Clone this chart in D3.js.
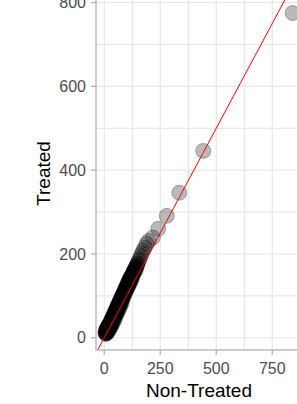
<!DOCTYPE html>
<html lang="en">
<head>
    <meta charset="UTF-8">
    <title>Treated vs Non-Treated</title>
    <script src="https://d3js.org/d3.v7.min.js"></script>
    <style>
        body {
            margin: 0;
            background: #fff;
            font-family: "Liberation Sans", Arial, sans-serif;
        }
        svg {
            display: block;
        }
    </style>
</head>
<body>
    <div id="chart"></div>

    <script>
        // Values (the dense cloud near the origin is estimated)
        const nonTreated = [
            5, 6, 8, 8, 9, 10, 11, 12, 12, 13, 14, 15, 16, 17, 18, 19, 20, 21, 22, 23,
            24, 25, 26, 27, 28, 29, 30, 31, 32, 33, 34, 35, 36, 37, 38, 39, 40,
            41, 42, 43, 44, 45, 46, 47, 48, 49, 50, 51, 52, 53, 54, 55, 56, 57, 58, 59,
            60, 61, 62, 63, 64, 65, 66, 67, 68, 69, 70, 71, 72, 73, 74, 75, 76, 77, 78, 79, 80,
            82, 83, 85, 86, 88, 89, 91, 92, 94, 95, 97, 99, 100, 102, 104, 106, 108, 110,
            112, 114, 116, 118, 120, 122, 125, 127, 130,
            133, 136, 139, 142, 146, 150, 154, 158, 163, 168, 174, 181, 189, 198,
            217, 241, 279, 335, 442, 841,
            7, 9, 11, 13, 15, 17, 19, 21, 23, 25, 27, 29, 31, 33, 35, 37, 39, 41, 43, 45,
            47, 49, 51, 53, 55, 57, 59, 61, 63, 65, 67, 69, 71, 73, 75, 77, 79, 81, 84, 87,
            90, 93, 96, 98, 101, 103, 105, 107, 109, 111, 113, 115, 117, 119, 121, 124, 128, 131,
            135, 138, 141, 144, 148
        ];
        const treated = [
            10, 14, 9, 17, 12, 20, 15, 11, 24, 18, 14, 22, 27, 19, 24, 16, 29, 23, 31, 26,
            20, 33, 28, 36, 30, 25, 38, 34, 41, 37, 31, 44, 40, 47, 43, 36, 50,
            46, 53, 49, 42, 56, 52, 59, 55, 47, 62, 58, 65, 61, 55, 68, 64, 71, 67, 60,
            74, 70, 77, 73, 66, 80, 76, 83, 79, 72, 86, 82, 89, 85, 78, 92, 88, 95, 91, 84, 98,
            94, 101, 104, 97, 108, 103, 112, 106, 115, 110, 119, 114, 123, 118, 127, 122, 131, 126,
            136, 131, 140, 135, 145, 140, 150, 146, 155,
            160, 157, 166, 163, 172, 178, 184, 188, 195, 201, 208, 215, 224, 231,
            239, 260, 291, 346, 446, 775,
            13, 11, 17, 21, 18, 25, 23, 30, 28, 34, 32, 39, 37, 44, 42, 49, 47, 54, 52, 59,
            57, 63, 61, 68, 66, 73, 70, 77, 75, 82, 80, 87, 85, 92, 90, 97, 95, 102, 100, 107,
            109, 116, 112, 121, 120, 128, 124, 133, 129, 138, 134, 142, 138, 146, 143, 149, 153, 158,
            161, 165, 168, 172, 176
        ];

        const xTicks = [0, 250, 500, 750];
        const xMinor = [125, 375, 625, 875];
        const yTicks = [0, 200, 400, 600, 800];
        const yMinor = [100, 300, 500, 700];

        const points = nonTreated.map((d, i) => ({ x: d, y: treated[i] }));

        function drawScatter(data) {
            const width = 297, height = 404;
            const left = 96, right = 302, top = -3, bottom = 350;

            // ggplot-style 5% expansion of the data range
            const expand = ext => {
                const w = ext[1] - ext[0];
                return [ext[0] - 0.05 * w, ext[1] + 0.05 * w];
            };
            const x = d3.scaleLinear().domain(expand(d3.extent(data, d => d.x))).range([left, right]);
            const y = d3.scaleLinear().domain(expand(d3.extent(data, d => d.y))).range([bottom, top]);

            const svg = d3.select("#chart")
                .append("svg")
                .attr("width", width)
                .attr("height", height);

            svg.append("clipPath").attr("id", "panel")
                .append("rect")
                .attr("x", left).attr("y", top)
                .attr("width", right - left).attr("height", bottom - top);

            // grid
            const grid = svg.append("g");
            grid.selectAll(".gx")
                .data(xMinor.concat(xTicks))
                .enter().append("line")
                .attr("x1", d => x(d)).attr("x2", d => x(d))
                .attr("y1", top).attr("y2", bottom)
                .attr("stroke", "#e3e3e3").attr("stroke-width", 1);
            grid.selectAll(".gy")
                .data(yMinor.concat(yTicks))
                .enter().append("line")
                .attr("y1", d => y(d)).attr("y2", d => y(d))
                .attr("x1", left).attr("x2", right)
                .attr("stroke", "#e3e3e3").attr("stroke-width", 1);

            // points
            svg.append("g")
                .attr("clip-path", "url(#panel)")
                .selectAll("circle")
                .data(data)
                .enter().append("circle")
                .attr("cx", d => x(d.x))
                .attr("cy", d => y(d.y))
                .attr("r", 7.5)
                .attr("fill", "#000")
                .attr("fill-opacity", 0.27)
                .attr("stroke", "#000")
                .attr("stroke-opacity", 0.27)
                .attr("stroke-width", 1);

            // identity line y = x
            const xd = x.domain();
            svg.append("line")
                .attr("clip-path", "url(#panel)")
                .attr("x1", x(xd[0])).attr("y1", y(xd[0]))
                .attr("x2", x(xd[1])).attr("y2", y(xd[1]))
                .attr("stroke", "#ff0000")
                .attr("stroke-width", 1);

            // panel border (left and bottom visible)
            svg.append("rect")
                .attr("x", left).attr("y", top)
                .attr("width", right - left).attr("height", bottom - top)
                .attr("fill", "none")
                .attr("stroke", "#b3b3b3")
                .attr("stroke-width", 1.3);

            // ticks and labels
            const xAxis = svg.append("g");
            xAxis.selectAll("line")
                .data(xTicks)
                .enter().append("line")
                .attr("x1", d => x(d)).attr("x2", d => x(d))
                .attr("y1", bottom).attr("y2", bottom + 5)
                .attr("stroke", "#b3b3b3").attr("stroke-width", 1.3);
            xAxis.selectAll("text")
                .data(xTicks)
                .enter().append("text")
                .attr("x", d => x(d))
                .attr("y", 373.5)
                .attr("text-anchor", "middle")
                .attr("fill", "#4d4d4d")
                .style("font-size", "16px")
                .text(d => d);

            const yAxis = svg.append("g");
            yAxis.selectAll("line")
                .data(yTicks)
                .enter().append("line")
                .attr("y1", d => y(d)).attr("y2", d => y(d))
                .attr("x1", left - 5).attr("x2", left)
                .attr("stroke", "#b3b3b3").attr("stroke-width", 1.3);
            yAxis.selectAll("text")
                .data(yTicks)
                .enter().append("text")
                .attr("x", left - 10)
                .attr("y", d => y(d))
                .attr("dy", "0.36em")
                .attr("text-anchor", "end")
                .attr("fill", "#4d4d4d")
                .style("font-size", "16px")
                .text(d => d);

            // axis titles
            svg.append("text")
                .attr("x", 199)
                .attr("y", 397)
                .attr("text-anchor", "middle")
                .attr("fill", "#000")
                .style("font-size", "19px")
                .text("Non-Treated");

            svg.append("text")
                .attr("transform", "translate(50,173.5) rotate(-90)")
                .attr("text-anchor", "middle")
                .attr("fill", "#000")
                .style("font-size", "19px")
                .text("Treated");
        }

        drawScatter(points);
    </script>
</body>
</html>
